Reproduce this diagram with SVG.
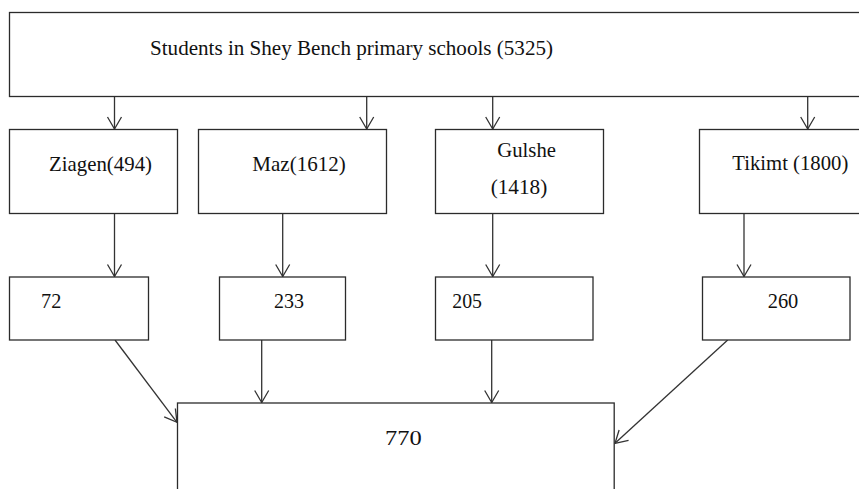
<svg xmlns="http://www.w3.org/2000/svg" width="859" height="489" viewBox="0 0 859 489">
<style>
.box{fill:#fff;stroke:#2b2b2b;stroke-width:1.3}
.lbl{font-family:'Liberation Serif','Times New Roman',Tinos,'DejaVu Serif',serif;font-size:21px;fill:#111}
.edge{stroke:#333;stroke-width:1.3;fill:none;marker-end:url(#arr)}
</style>
<defs>
<marker id="arr" markerUnits="userSpaceOnUse" markerWidth="16" markerHeight="18" viewBox="0 0 16 18" refX="13" refY="8" orient="auto">
<path d="M1,1 L13,8 L1,15" fill="none" stroke="#333" stroke-width="1.3"/>
</marker>
</defs>
<rect width="859" height="489" fill="#fff"/>
<g id="connectors">
<line class="edge" x1="114.5" y1="97" x2="114.5" y2="129"/>
<line class="edge" x1="366.7" y1="97" x2="366.7" y2="129"/>
<line class="edge" x1="492.7" y1="97" x2="492.7" y2="129"/>
<line class="edge" x1="807.7" y1="97" x2="807.7" y2="129"/>
<line class="edge" x1="114.5" y1="213.5" x2="114.5" y2="276.5"/>
<line class="edge" x1="282.7" y1="213.5" x2="282.7" y2="276.5"/>
<line class="edge" x1="492.7" y1="213.5" x2="492.7" y2="276.5"/>
<line class="edge" x1="744" y1="213.5" x2="744" y2="276.5"/>
<line class="edge" x1="115" y1="340" x2="177" y2="422.3"/>
<line class="edge" x1="261.7" y1="340" x2="261.7" y2="402.5"/>
<line class="edge" x1="491.7" y1="340" x2="491.7" y2="402.5"/>
<line class="edge" x1="727.7" y1="340" x2="615" y2="443.3"/>
</g>
<g id="n-top">
<rect class="box" x="9.5" y="12.5" width="860" height="84"/>
<text class="lbl" x="150" y="54.5" font-size="22" textLength="403" lengthAdjust="spacingAndGlyphs">Students in Shey Bench primary schools (5325)</text>
</g>
<g id="n-ziagen">
<rect class="box" x="9.5" y="129.5" width="168" height="84"/>
<text class="lbl" x="49" y="171" textLength="103" lengthAdjust="spacingAndGlyphs">Ziagen(494)</text>
</g>
<g id="n-maz">
<rect class="box" x="198.5" y="129.5" width="188" height="84"/>
<text class="lbl" x="252.3" y="171" textLength="93.4" lengthAdjust="spacingAndGlyphs">Maz(1612)</text>
</g>
<g id="n-gulshe">
<rect class="box" x="435.5" y="129.5" width="168" height="84"/>
<text class="lbl" x="497.3" y="157" textLength="58.7" lengthAdjust="spacingAndGlyphs">Gulshe</text>
<text class="lbl" x="490.7" y="193.5" textLength="56.6" lengthAdjust="spacingAndGlyphs">(1418)</text>
</g>
<g id="n-tikimt">
<rect class="box" x="699.5" y="129.5" width="170" height="84"/>
<text class="lbl" x="732.3" y="170" textLength="116" lengthAdjust="spacingAndGlyphs">Tikimt (1800)</text>
</g>
<g id="n-72">
<rect class="box" x="9.5" y="277" width="139" height="63"/>
<text class="lbl" x="41" y="307.7" textLength="20.3" lengthAdjust="spacingAndGlyphs">72</text>
</g>
<g id="n-233">
<rect class="box" x="219.5" y="277" width="126" height="63"/>
<text class="lbl" x="274" y="307.7" textLength="30" lengthAdjust="spacingAndGlyphs">233</text>
</g>
<g id="n-205">
<rect class="box" x="435.5" y="277" width="157.5" height="63"/>
<text class="lbl" x="452.3" y="307.7" textLength="29.7" lengthAdjust="spacingAndGlyphs">205</text>
</g>
<g id="n-260">
<rect class="box" x="702.5" y="277" width="147.5" height="63"/>
<text class="lbl" x="767.7" y="307.7" textLength="30.6" lengthAdjust="spacingAndGlyphs">260</text>
</g>
<g id="n-770">
<rect class="box" x="177.5" y="403" width="436.7" height="100"/>
<text class="lbl" x="385" y="445" font-size="24" textLength="36.7" lengthAdjust="spacingAndGlyphs">770</text>
</g>
</svg>
